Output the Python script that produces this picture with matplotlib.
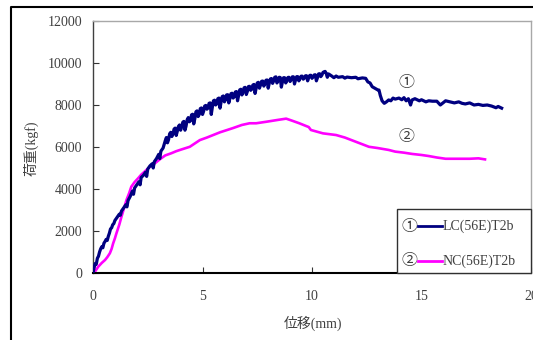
import matplotlib
matplotlib.use("Agg")
import matplotlib.pyplot as plt
from matplotlib.lines import Line2D
from matplotlib.patches import Rectangle

plt.rcParams['font.family'] = ['Liberation Serif', 'Noto Sans CJK JP', 'DejaVu Sans']

# ---------------- data ----------------
lc_x = [0.00, 0.05, 0.10, 0.15, 0.20, 0.25, 0.30, 0.35, 0.40, 0.45, 0.50, 0.55, 0.60, 0.65,
        0.70, 0.75, 0.80, 0.85, 0.90, 0.95, 1.00, 1.10, 1.20, 1.25, 1.30, 1.40, 1.50, 1.55,
        1.60, 1.70, 1.80, 1.85, 1.90, 2.00, 2.10, 2.15, 2.20, 2.30, 2.40, 2.45, 2.50, 2.60,
        2.70, 2.75, 2.80, 2.90, 3.00, 3.05, 3.10, 3.20,
        3.3, 3.4, 3.5, 3.6, 3.7, 3.8, 3.9, 4.0, 4.1, 4.2, 4.3, 4.4, 4.5, 4.6, 4.7, 4.8, 4.9,
        5.0, 5.1, 5.2, 5.3, 5.4, 5.5, 5.6, 5.7, 5.8, 5.9, 6.0, 6.1, 6.2, 6.3, 6.4, 6.5, 6.6,
        6.7, 6.8, 6.9, 7.0, 7.1, 7.2, 7.3, 7.4, 7.5, 7.6, 7.7, 7.8, 7.9, 8.0, 8.1, 8.2, 8.3,
        8.4, 8.5, 8.6, 8.7, 8.8, 8.9, 9.0, 9.1, 9.2, 9.3, 9.4, 9.5, 9.6, 9.7, 9.8, 9.9, 10.0,
        10.1, 10.2, 10.3, 10.4, 10.5, 10.6, 10.7, 10.8,
        10.9, 11.0, 11.1, 11.2, 11.4, 11.5, 11.6, 11.8, 12.0, 12.1, 12.3, 12.45, 12.55, 12.65,
        12.75, 12.9, 13.0, 13.06, 13.12, 13.2, 13.3, 13.4, 13.5, 13.6, 13.7, 13.8, 13.97, 14.1,
        14.2, 14.3, 14.4, 14.5, 14.57, 14.7, 14.9, 15.0, 15.2, 15.33, 15.5, 15.7, 15.86, 16.1,
        16.3, 16.5, 16.7, 16.85, 17.0, 17.2, 17.4, 17.6, 17.8, 18.0, 18.2, 18.4, 18.5, 18.66]
lc_y = [0, 250, 450, 420, 700, 800, 1000, 1150, 1250, 1200, 1420, 1500, 1600, 1550,
        1750, 1900, 2100, 2150, 2300, 2350, 2500, 2650, 2800, 2750, 2950, 3100, 3250, 3150,
        3450, 3650, 3900, 3750, 4050, 4200, 4350, 4200, 4550, 4650, 4800, 4600, 4950, 5100,
        5200, 5000, 5300, 5450, 5650, 5450, 5800, 5950,
        6300, 6200, 6630, 6500, 6850, 6550, 6980, 6800, 7180, 6800, 7300, 7200, 7530, 7100,
        7680, 7450, 7830, 7550, 7950, 7800, 8080, 7550, 8200, 8000, 8300, 7850, 8400, 8150,
        8480, 8100, 8540, 8330, 8620, 8200, 8720, 8480, 8820, 8500, 8880, 8700, 8950, 8550,
        9050, 8800, 9130, 8900, 9180, 8800, 9240, 9030, 9320, 9050, 9320, 8850, 9300, 9050,
        9310, 9120, 9340, 9000, 9350, 9150, 9370, 9230, 9390, 9150, 9410, 9270, 9430, 9150,
        9480, 9350, 9550, 9600, 9320, 9450,
        9380, 9300, 9380, 9320, 9350, 9280, 9330, 9300, 9320, 9250, 9290, 9270, 9100, 9050,
        8870, 8780, 8720, 8710, 8450, 8200, 8080, 8150, 8240, 8200, 8330, 8280, 8330, 8250,
        8350, 8200, 8300, 8000, 8240, 8300, 8200, 8250, 8150, 8200, 8180, 8180, 8000, 8200,
        8150, 8100, 8150, 8080, 8050, 8100, 8000, 8030, 7980, 8000, 7950, 7870, 7930, 7850]

# extra readings between the main ones (dense fluctuating section)
lc_mid_x = [3.35, 3.45, 3.55, 3.65, 3.75, 3.85, 3.95, 4.05, 4.15, 4.25, 4.35, 4.45, 4.55,
            4.65, 4.75, 4.85, 4.95, 5.05, 5.15, 5.25, 5.35, 5.45, 5.55, 5.65, 5.75, 5.85,
            5.95, 6.05, 6.15, 6.25, 6.35, 6.45, 6.55, 6.65, 6.75, 6.85, 6.95, 7.05, 7.15,
            7.25, 7.35, 7.45, 7.55, 7.65, 7.75, 7.85, 7.95, 8.05, 8.15, 8.25, 8.35, 8.45,
            8.55, 8.65, 8.75, 8.85, 8.95, 9.05, 9.15, 9.25, 9.35, 9.45, 9.55, 9.65, 9.75,
            9.85, 9.95, 10.05, 10.15, 10.25, 10.35, 10.45, 10.55, 10.65, 10.75]
lc_mid_y = [6450, 6350, 6700, 6600, 6900, 6750, 7050, 6950, 7220, 7000, 7400, 7250, 7560,
            7350, 7720, 7550, 7860, 7700, 7980, 7850, 8100, 7900, 8230, 8050, 8330, 8150,
            8430, 8250, 8490, 8300, 8560, 8400, 8640, 8450, 8750, 8600, 8840, 8650, 8890,
            8750, 8980, 8800, 9080, 8950, 9140, 9000, 9190, 9050, 9260, 9150, 9340, 9150,
            9310, 9100, 9300, 9150, 9320, 9200, 9345, 9200, 9350, 9250, 9375, 9280, 9395,
            9300, 9415, 9330, 9440, 9300, 9490, 9420, 9580, 9500, 9480]

nc_x = [0.0, 0.1, 0.24, 0.4, 0.55, 0.65, 0.77, 0.85, 0.92, 1.0, 1.07, 1.2, 1.3, 1.42, 1.53,
        1.65, 1.75, 1.9, 2.06, 2.2, 2.36, 2.6, 2.82, 3.06, 3.3, 3.57, 3.8, 4.03, 4.42, 4.88,
        5.2, 5.8, 6.39, 6.8, 7.15, 7.45, 7.9, 8.2, 8.44, 8.82, 9.1, 9.42, 9.73, 9.85, 9.95,
        10.5, 11.1, 11.5, 12.0, 12.6, 13.0, 13.5, 13.8, 14.2, 14.57, 15.0, 15.33, 15.7, 16.1,
        16.5, 16.85, 17.2, 17.6, 17.9]
nc_y = [0, 80, 300, 480, 620, 750, 940, 1150, 1410, 1650, 1890, 2300, 2680, 3100, 3480,
        3800, 4110, 4330, 4510, 4680, 4830, 5060, 5220, 5420, 5600, 5700, 5800, 5880, 6010, 6330,
        6450, 6700, 6900, 7050, 7130, 7130, 7200, 7250, 7290, 7350, 7250, 7130, 7000, 6950, 6810,
        6650, 6570, 6450, 6250, 6010, 5950, 5860, 5780, 5730, 5670, 5620, 5570, 5500, 5440,
        5440, 5440, 5440, 5460, 5410]

x_ticks = [0, 5, 10, 15, 20]
y_ticks = [0, 2000, 4000, 6000, 8000, 10000, 12000]
series_labels = ['LC(56E)T2b', 'NC(56E)T2b']
series_marks = ['①', '②']
x_label = '位移(mm)'
y_label = '荷重(kgf)'

lc_color = '#000080'
nc_color = '#ff00ff'
txt_color = '#404040'

# merge the LC readings in x order
lc_pts = sorted(zip(lc_x + lc_mid_x, lc_y + lc_mid_y))
lc_all_x = [p[0] for p in lc_pts]
lc_all_y = [p[1] for p in lc_pts]

# ---------------- figure ----------------
W, H = 533, 340
fig = plt.figure(figsize=(W / 100, H / 100), dpi=100)
fig.patch.set_facecolor('white')

ax_l, ax_r, ax_t, ax_b = 93, 531, 21, 273
ax = fig.add_axes([ax_l / W, (H - ax_b) / H, (ax_r - ax_l) / W, (ax_b - ax_t) / H])

ax.plot(lc_all_x, lc_all_y, color=lc_color, lw=2.3, solid_joinstyle='round', zorder=3)
ax.plot(nc_x, nc_y, color=nc_color, lw=1.9, solid_joinstyle='round', zorder=2)

ax.set_xlim(0, 20)
ax.set_ylim(0, 12000)
ax.set_xticks(x_ticks)
ax.set_yticks(y_ticks)
ax.set_xticklabels([str(v) for v in x_ticks])
ax.set_yticklabels([str(v) for v in y_ticks])
ax.tick_params(axis='both', direction='in', length=4, width=0.8, colors='#333333',
               labelsize=10, labelcolor=txt_color)
ax.tick_params(axis='x', pad=12)
ax.tick_params(axis='y', pad=8)

for s in ['top', 'right']:
    ax.spines[s].set_color('#a8a8a8')
    ax.spines[s].set_linewidth(1.0)
ax.spines['left'].set_color('#404040')
ax.spines['left'].set_linewidth(1.0)
ax.spines['bottom'].set_color('black')
ax.spines['bottom'].set_linewidth(1.5)

# axis titles
fig.text(313 / W, 1 - 323 / H, x_label, ha='center', va='center', fontsize=10, color=txt_color)
fig.text(31 / W, 1 - 148 / H, y_label, ha='center', va='center', fontsize=10, color=txt_color,
         rotation=90)

# curve annotations
ax.text(14.33, 9050, series_marks[0], ha='center', va='center', fontsize=11.5, color=txt_color,
        family=['Noto Sans CJK JP', 'DejaVu Sans'])
ax.text(14.33, 6480, series_marks[1], ha='center', va='center', fontsize=11.5, color=txt_color,
        family=['Noto Sans CJK JP', 'DejaVu Sans'])

# legend box
def fx(px):
    return (px - ax_l) / (ax_r - ax_l)

def fy(py):
    return (ax_b - py) / (ax_b - ax_t)

ax.add_patch(Rectangle((fx(397), 0), 1 - fx(397), fy(209), transform=ax.transAxes,
                       facecolor='white', edgecolor='#303030', lw=1.0, zorder=5, clip_on=False))
for i, (lab, mark, col) in enumerate(zip(series_labels, series_marks, [lc_color, nc_color])):
    yy = fy([226, 261][i])
    ax.text(fx(409), yy, mark, transform=ax.transAxes, ha='center', va='center', fontsize=11.5,
            color=txt_color, family=['Noto Sans CJK JP', 'DejaVu Sans'], zorder=6)
    ax.add_line(Line2D([fx(418), fx(442)], [yy, yy], transform=ax.transAxes, color=col,
                       lw=2.0, zorder=6))
    ax.text(fx(443), yy, lab, transform=ax.transAxes, ha='left', va='center', fontsize=10,
            color=txt_color, zorder=6)

# outer frame
fig.add_artist(Line2D([11 / W, 11 / W, 1.0], [0.0, 1 - 7 / H, 1 - 7 / H],
                      transform=fig.transFigure, color='black', lw=1.5))

fig.savefig('out.png', dpi=100)
